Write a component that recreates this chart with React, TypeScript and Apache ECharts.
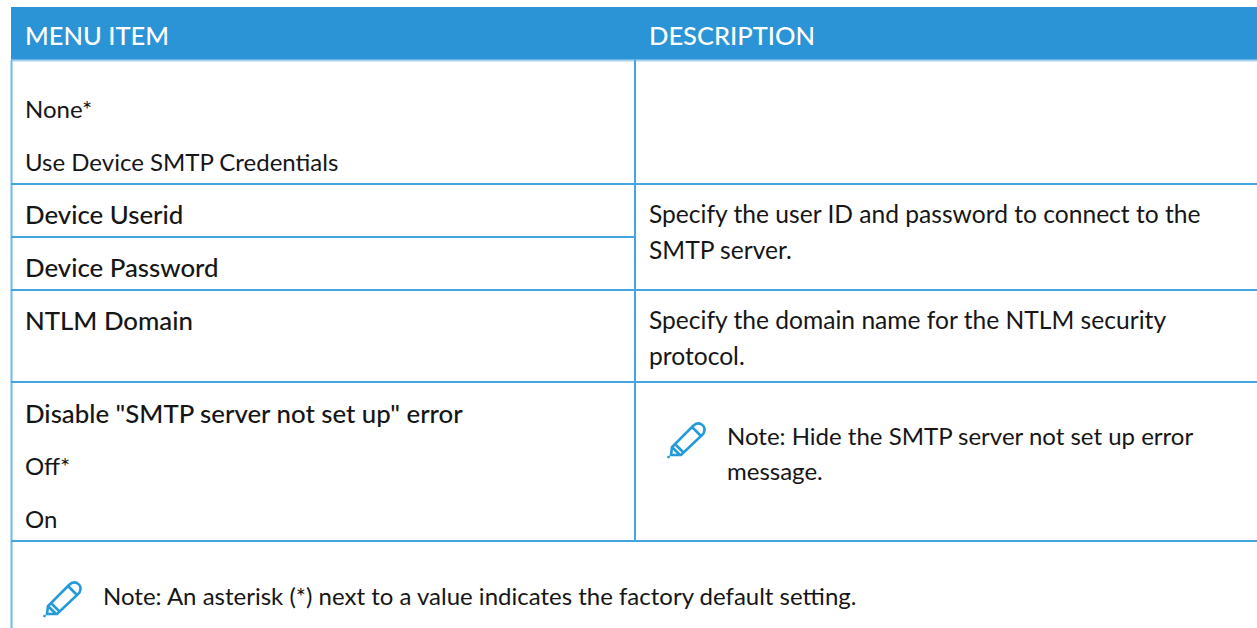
import React, { useEffect, useRef } from "react";
import * as echarts from "echarts";

const FONT = "Lato";
const headerLabels = ["MENU ITEM", "DESCRIPTION"];
const plainItems = ["None*", "Use Device SMTP Credentials", "Off*", "On"];
const boldItems = ["Device Userid", "Device Password", "NTLM Domain", 'Disable "SMTP server not set up" error'];
const specifyLines = [
  "Specify the user ID and password to connect to the",
  "SMTP server.",
  "Specify the domain name for the NTLM security",
  "protocol.",
];
const noteLines = ["Note: Hide the SMTP server not set up error", "message."];
const footnote = "Note: An asterisk (*) next to a value indicates the factory default setting.";

const PENCIL =
  "M0 38 L1 36 M3 35 L4 27 L25 6 Q29 2 33 4 Q38 7 36 12 Q36 14 34 15 L13 35 Z M4 27 L12 35 M7 24 L15 32 M24 7 L33 16";
echarts.graphic.registerShape("pencilIcon", echarts.graphic.extendPath(PENCIL, {}));

export default function App() {
  const ref = useRef<HTMLDivElement>(null);
  useEffect(() => {
    document.body.style.margin = "0";
    const chart = echarts.init(ref.current!, null, { renderer: "svg" });
    const BLUE = "#2b94d6";
    const LINE = "#45a5e2";
    const textEl = (t: string, x: number, y: number, weight = 400, size = 24, fill = "#161616") => ({
      type: "text",
      x,
      y,
      style: {
        text: t,
        fill,
        font: `${weight} ${size}px ${FONT}`,
        textVerticalAlign: "middle",
        textAlign: "left",
      },
    });
    const rule = (x1: number, y1: number, x2: number, y2: number, stroke = LINE) => ({
      type: "line",
      shape: { x1, y1, x2, y2 },
      style: { stroke, lineWidth: 2 },
    });
    const plainY = [108, 161, 465, 518];
    const boldY = [214, 267, 320, 413];
    const specifyY = [213, 249, 319, 355];
    const noteY = [435, 470];
    const elements: any[] = [
      { type: "rect", shape: { x: 11, y: 7, width: 1246, height: 53 }, style: { fill: BLUE } },
      rule(11, 60.5, 1257, 60.5, "#a9d3ef"),
      rule(11.5, 60, 11.5, 628, "#6db9ea"),
      rule(635, 60, 635, 541),
      ...[184, 290, 382, 541].map((y) => rule(11, y, 1257, y)),
      rule(11, 237, 635, 237),
      ...headerLabels.map((h, i) => textEl(h, [25, 649][i], 35, 500, 25.5, "#ffffff")),
      ...plainItems.map((t, i) => textEl(t, 25, plainY[i])),
      ...boldItems.map((t, i) => textEl(t, 25, boldY[i], 500, 25.8)),
      ...specifyLines.map((t, i) => textEl(t, 649, specifyY[i], 400, 24.6)),
      ...noteLines.map((t, i) => textEl(t, 727, noteY[i])),
      textEl(footnote, 103, 595),
      ...[
        [668, 420],
        [44, 579],
      ].map(([x, y]) => ({
        type: "pencilIcon",
        x,
        y,
        style: { stroke: "#239bdb", fill: "none", lineWidth: 2.6 },
      })),
    ];
    chart.setOption({ animation: false, graphic: { elements } });
    return () => chart.dispose();
  }, []);
  return <div ref={ref} style={{ width: 1257, height: 628 }} />;
}
